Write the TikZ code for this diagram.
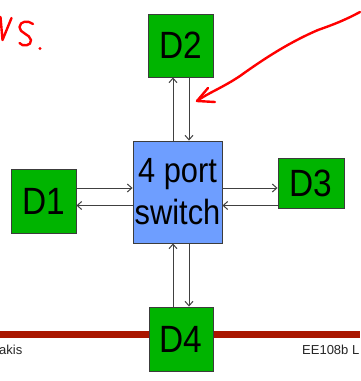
\documentclass[tikz,border=0pt]{standalone}
\usepackage{fontspec}
\setmainfont{Liberation Sans}
\newfontfamily\narrowsans[FakeStretch=0.88]{Liberation Sans}
\usetikzlibrary{arrows.meta}
\definecolor{devgreen}{RGB}{0,180,0}
\definecolor{swblue}{RGB}{110,158,255}
\definecolor{barred}{RGB}{170,22,0}
\definecolor{edgegray}{RGB}{60,60,60}
\definecolor{inkred}{RGB}{255,0,0}
\tikzset{
  device/.style={draw=edgegray, line width=0.9pt, fill=devgreen, inner sep=0pt,
                 font=\narrowsans\fontsize{38}{40}\selectfont},
  switchbox/.style={draw=edgegray, line width=0.9pt, fill=swblue, inner sep=0pt,
                 minimum width=89pt, minimum height=102pt, align=center,
                 font=\narrowsans\fontsize{35}{42}\selectfont},
  link/.style={draw=black!75, line width=0.8pt, -{Straight Barb[length=4.5pt,width=8pt,line width=1pt]}},
  ink/.style={draw=inkred, line width=2.4pt, line cap=round, line join=round},
  footer/.style={font=\fontsize{13}{15}\selectfont, text=black!85, inner sep=0pt}
}
\begin{document}
\begin{tikzpicture}[x=1pt,y=-1pt]
\useasboundingbox (0,0) rectangle (360,381);
\fill[white] (0,0) rectangle (360,381);

% footer rule and footer texts
\fill[barred] (0,331) rectangle (360,337.5);
\node[footer, anchor=base west] (fl) at (-1,354) {akis};
\node[footer, anchor=base east] (fr) at (359.5,354) {EE108b L};

% devices and the switch
\node[switchbox] (sw) at (177.5,192) {4 port\\switch};
\node[device, minimum width=65pt, minimum height=63pt] (d2) at (180.5,45.5) {D2};
\node[device, minimum width=65pt, minimum height=64pt] (d1) at (43.5,201) {D1};
\node[device, minimum width=66pt, minimum height=50pt] (d3) at (311,183.5) {D3};
\node[device, minimum width=64pt, minimum height=64pt] (d4) at (181,339) {D4};

% lanes for the links
\coordinate (va) at (173,0);
\coordinate (vb) at (189,0);
\coordinate (ha) at (0,188);
\coordinate (hb) at (0,205.5);

\draw[link] (sw.north -| va) -- (d2.south -| va);
\draw[link] (d2.south -| vb) -- (sw.north -| vb);
\draw[link] (d4.north -| va) -- (sw.south -| va);
\draw[link] (sw.south -| vb) -- (d4.north -| vb);
\draw[link] (d1.east |- ha) -- (sw.west |- ha);
\draw[link] (sw.west |- hb) -- (d1.east |- hb);
\draw[link] (sw.east |- ha) -- (d3.west |- ha);
\draw[link] (d3.west |- hb) -- (sw.east |- hb);

% handwritten "vs."
\draw[ink] (0.5,17) -- (2.5,40) -- (11.5,18);
\draw[ink] (33,24) .. controls (28,20) and (20,21) .. (19.5,27)
  .. controls (19,33) and (30,34) .. (31,40)
  .. controls (32,46) and (22,47) .. (19.5,43);
\fill[inkred] (40,48.5) circle (1.6pt);

% handwritten arrow
\coordinate (ps) at (360,12);
\coordinate (pt) at (197,101);
\draw[ink] (ps) .. controls (345,20) and (335,24) .. (318,30)
  .. controls (290,42) and (265,58) .. (240,76)
  .. controls (222,88) and (208,93) .. (pt);
\draw[ink] (208,88) -- (pt) -- (215,102);
\end{tikzpicture}
\end{document}
